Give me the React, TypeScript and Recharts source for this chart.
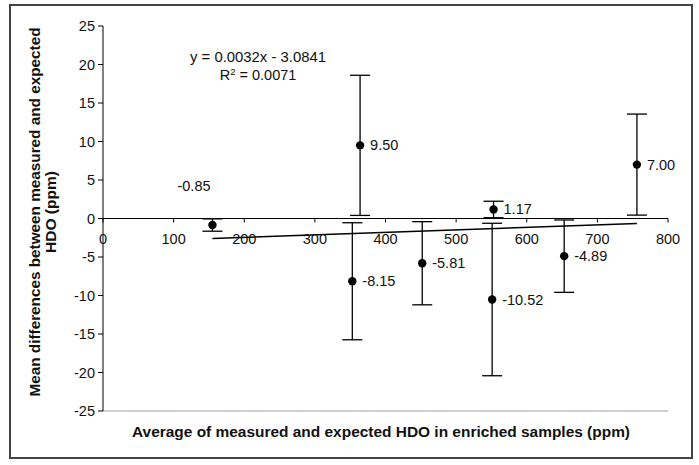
import React from "react";
import {
  ScatterChart,
  Scatter,
  XAxis,
  YAxis,
  ErrorBar,
  ReferenceLine,
} from "recharts";

// Mean difference per enriched sample, with error bars
const AVG_HDO = [155, 353, 364, 452, 553, 551, 653, 756];
const MEAN_DIFF = [-0.85, -8.15, 9.5, -5.81, 1.17, -10.52, -4.89, 7.0];
const ERR = [0.8, 7.6, 9.1, 5.4, 1.07, 9.9, 4.7, 6.56];

// Linear trendline end points (y = 0.0032x - 3.0841)
const TREND_X = [155, 756];
const TREND_Y = [-2.59, -0.665];

const X_TICKS = [0, 100, 200, 300, 400, 500, 600, 700, 800];
const Y_TICKS = [-25, -20, -15, -10, -5, 0, 5, 10, 15, 20, 25];

const W = 699;
const H = 465;
const M = { top: 26, right: 31, bottom: 24, left: 43 };
const PLOT_H = H - M.top - M.bottom - 30;
// y pixel of value 0 (x axis crosses there)
const Y0 = M.top + PLOT_H / 2;

const FONT = "'Liberation Sans', Arial, sans-serif";
const INK = "#111";

const points = AVG_HDO.map((x, i) => ({ x, y: MEAN_DIFF[i], err: ERR[i] }));
const trend = TREND_X.map((x, i) => ({ x, y: TREND_Y[i] }));

function Dot(props: any) {
  const { cx, cy, payload } = props;
  // first label sits up and to the left of its point
  const first = payload.x === AVG_HDO[0];
  const lx = first ? cx - 35 : cx + 10;
  const ly = first ? cy - 39 : cy;
  return (
    <g>
      <circle cx={cx} cy={cy} r={4.2} fill="#000" />
      <text
        x={lx}
        y={ly + 5}
        fontSize={14.5}
        fontFamily={FONT}
        fill={INK}
      >
        {payload.y.toFixed(2)}
      </text>
    </g>
  );
}

function XTick(props: any) {
  const { x, payload } = props;
  return (
    <g>
      <line x1={x} x2={x} y1={Y0} y2={Y0 + 4} stroke="#000" />
      <text
        x={x}
        y={Y0 + 25}
        textAnchor="middle"
        fontSize={14.5}
        fontFamily={FONT}
        fill={INK}
      >
        {payload.value}
      </text>
    </g>
  );
}

export default function App() {
  return (
    <div style={{ position: "absolute", left: 0, top: 0, width: W, height: H, background: "#fff" }}>
      <ScatterChart width={W} height={H} margin={M}>
        <XAxis
          xAxisId="b"
          type="number"
          dataKey="x"
          domain={[0, 800]}
          ticks={X_TICKS}
          height={30}
          axisLine={{ stroke: "#a0a0a0" }}
          tickLine={false}
          tick={<XTick />}
        />
        <XAxis
          xAxisId="t"
          type="number"
          orientation="top"
          domain={[0, 800]}
          height={0}
          tick={false}
          tickLine={false}
          axisLine={{ stroke: "#a0a0a0" }}
        />
        <YAxis
          yAxisId="l"
          type="number"
          dataKey="y"
          domain={[-25, 25]}
          ticks={Y_TICKS}
          width={60}
          tickSize={5}
          tickMargin={3}
          axisLine={{ stroke: "#000" }}
          tickLine={{ stroke: "#000" }}
          tick={{ fontSize: 14.5, fontFamily: FONT, fill: INK }}
        />
        <YAxis
          yAxisId="r"
          type="number"
          orientation="right"
          domain={[-25, 25]}
          width={0}
          tick={false}
          tickLine={false}
          axisLine={{ stroke: "#a0a0a0" }}
        />
        <ReferenceLine xAxisId="b" yAxisId="l" y={0} stroke="#000" strokeWidth={1.2} />
        <Scatter
          xAxisId="b"
          yAxisId="l"
          data={trend}
          line={{ stroke: "#000", strokeWidth: 1.5 }}
          shape={() => <g />}
          isAnimationActive={false}
        />
        <Scatter
          xAxisId="b"
          yAxisId="l"
          data={points}
          shape={<Dot />}
          isAnimationActive={false}
        >
          <ErrorBar dataKey="err" direction="y" width={10} stroke="#000" strokeWidth={1.3} />
        </Scatter>
      </ScatterChart>
      <svg
        width={W}
        height={H}
        style={{ position: "absolute", left: 0, top: 0, pointerEvents: "none" }}
      >
        <rect x={10} y={5} width={682} height={453} fill="none" stroke="#444" strokeWidth={2} />
        <text
          x={258}
          y={62}
          textAnchor="middle"
          fontSize={14.5}
          fontFamily={FONT}
          fill={INK}
          textLength={136}
          lengthAdjust="spacingAndGlyphs"
        >
          y = 0.0032x - 3.0841
        </text>
        <text x={258} y={80} textAnchor="middle" fontSize={14.5} fontFamily={FONT} fill={INK}>
          R<tspan dy={-5} fontSize={9.5}>2</tspan>
          <tspan dy={5}> = 0.0071</tspan>
        </text>
        <text
          transform="translate(40 212) rotate(-90)"
          textAnchor="middle"
          fontSize={14}
          fontWeight="bold"
          fontFamily={FONT}
          fill={INK}
          textLength={369}
          lengthAdjust="spacingAndGlyphs"
        >
          Mean differences between measured and expected
        </text>
        <text
          transform="translate(56 212) rotate(-90)"
          textAnchor="middle"
          fontSize={14}
          fontWeight="bold"
          fontFamily={FONT}
          fill={INK}
          textLength={82}
          lengthAdjust="spacingAndGlyphs"
        >
          HDO (ppm)
        </text>
        <text
          x={381}
          y={437}
          textAnchor="middle"
          fontSize={14}
          fontWeight="bold"
          fontFamily={FONT}
          fill={INK}
          textLength={498}
          lengthAdjust="spacingAndGlyphs"
        >
          Average of measured and expected HDO in enriched samples (ppm)
        </text>
      </svg>
    </div>
  );
}
